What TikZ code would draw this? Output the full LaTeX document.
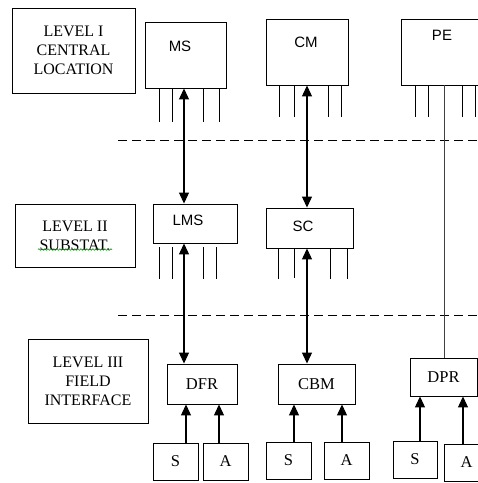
\documentclass[tikz,border=0pt]{standalone}
\usepackage{fontspec}
\setmainfont{Liberation Serif}
\setsansfont{Liberation Sans}
\usetikzlibrary{arrows.meta,decorations.pathmorphing}
\tikzset{
  box/.style={draw, line width=0.9pt, inner sep=0pt},
  lvl/.style={box, align=center, font=\fontsize{16}{19}\selectfont},
  ser/.style={box, font=\fontsize{16.5}{19}\selectfont},
  sanslbl/.style={font=\sffamily\fontsize{15}{17}\selectfont, inner sep=0pt},
  stub/.style={line width=0.9pt},
  arr/.style={line width=1.1pt, -{Triangle[length=11pt,width=10pt]}},
  dblarr/.style={line width=1.1pt, {Triangle[length=11pt,width=10pt]}-{Triangle[length=11pt,width=10pt]}},
  sep/.style={line width=1pt, dash pattern=on 9pt off 5pt},
}
\begin{document}
\begin{tikzpicture}[x=1pt,y=-1pt]
\useasboundingbox (0,0) rectangle (478,483);
\clip (0,0) rectangle (478,483);
% level boxes
\node[lvl, minimum width=123, minimum height=85] (lvl1) at (73.5,50.5) {LEVEL I\\CENTRAL\\LOCATION};
\node[lvl, minimum width=120, minimum height=63] (lvl2) at (75,235.5) {LEVEL II\\SUBSTAT.};
\node[lvl, minimum width=120, minimum height=84] (lvl3) at (88,381) {LEVEL III\\FIELD\\INTERFACE};
% level I
\node[box, minimum width=81, minimum height=66, label={[sanslbl, xshift=-5.5, yshift=9]center:MS}] (ms) at (185.5,55) {};
\node[box, minimum width=82, minimum height=66, label={[sanslbl, xshift=-1, yshift=9.5]center:CM}] (cm) at (307,52) {};
\node[box, minimum width=87, minimum height=66, label={[sanslbl, xshift=-2.5, yshift=17]center:PE}] (pe) at (444.5,52) {};
% level II
\node[box, minimum width=84, minimum height=39, label={[sanslbl, xshift=-7, yshift=3.5]center:LMS}] (lms) at (195,223.5) {};
\node[box, minimum width=87, minimum height=40, label={[sanslbl, xshift=-6.5, yshift=2]center:SC}] (sc) at (309.5,228) {};
% level III
\node[ser, minimum width=70, minimum height=40] (dfr) at (202,384) {DFR};
\node[ser, minimum width=77, minimum height=40] (cbm) at (316.5,384) {CBM};
\node[ser, minimum width=67, minimum height=38] (dpr) at (443.5,377) {DPR};
\node[ser, minimum width=45, minimum height=37] (s1) at (175.5,461.5) {S};
\node[ser, minimum width=45, minimum height=37] (a1) at (225.5,461.5) {A};
\node[ser, minimum width=45, minimum height=37] (s2) at (288.5,460.5) {S};
\node[ser, minimum width=45, minimum height=37] (a2) at (346.5,460.5) {A};
\node[ser, minimum width=44, minimum height=37] (s3) at (415,459.5) {S};
\node[ser, minimum width=45, minimum height=37] (a3) at (466.5,462.5) {A};
% spell-check underline
\draw[green!60!black, line width=0.6pt, decorate, decoration={snake, amplitude=0.8pt, segment length=3pt}] (38,249.5) -- (112,249.5);
% stubs
\foreach \x in {159,172,203,219} \draw[stub] (ms.south -| \x,0) -- (\x,122);
\foreach \x in {279,294,328,341} \draw[stub] (cm.south -| \x,0) -- (\x,117);
\foreach \x in {415,428,462,475} \draw[stub] (pe.south -| \x,0) -- (\x,117);
\foreach \x in {159,172,203,216} \draw[stub] (\x,247) -- (\x,279);
\foreach \x/\e in {278/279,294/278,330/279,347/279} \draw[stub] (sc.south -| \x,0) -- (\x,\e);
% separators
\coordinate (d1a) at (118,140); \coordinate (d1b) at (478,140);
\coordinate (d2a) at (118,315); \coordinate (d2b) at (478,315);
\draw[sep] (d1a) -- (d1b);
\draw[sep] (d2a) -- (d2b);
% vertical links
\draw[dblarr] ([xshift=-1.5]ms.south) -- ([xshift=-1.5]ms.south |- lms.north);
\draw[dblarr] ([xshift=-11]lms.south) -- ([xshift=-11]lms.south |- dfr.north);
\draw[dblarr] (cm.south) -- (cm.south |- sc.north);
\draw[dblarr] ([xshift=-2.5]sc.south) -- ([xshift=-2.5]sc.south |- cbm.north);
\draw[line width=0.9pt, black!75] ([xshift=-0.5]pe.south) -- ([xshift=-0.5]pe.south |- dpr.north);
% sensor / actuator arrows
\draw[arr] ([xshift=10.5]s1.north) -- ([xshift=10.5]s1.north |- dfr.south);
\draw[arr] ([xshift=-6.5]a1.north) -- ([xshift=-6.5]a1.north |- dfr.south);
\draw[arr] ([xshift=5.5]s2.north) -- ([xshift=5.5]s2.north |- cbm.south);
\draw[arr] ([xshift=-4.5]a2.north) -- ([xshift=-4.5]a2.north |- cbm.south);
\draw[arr] ([xshift=5]s3.north) -- ([xshift=5]s3.north |- dpr.south);
\draw[arr] ([xshift=-3.5]a3.north) -- ([xshift=-3.5]a3.north |- dpr.south);
\end{tikzpicture}
\end{document}
